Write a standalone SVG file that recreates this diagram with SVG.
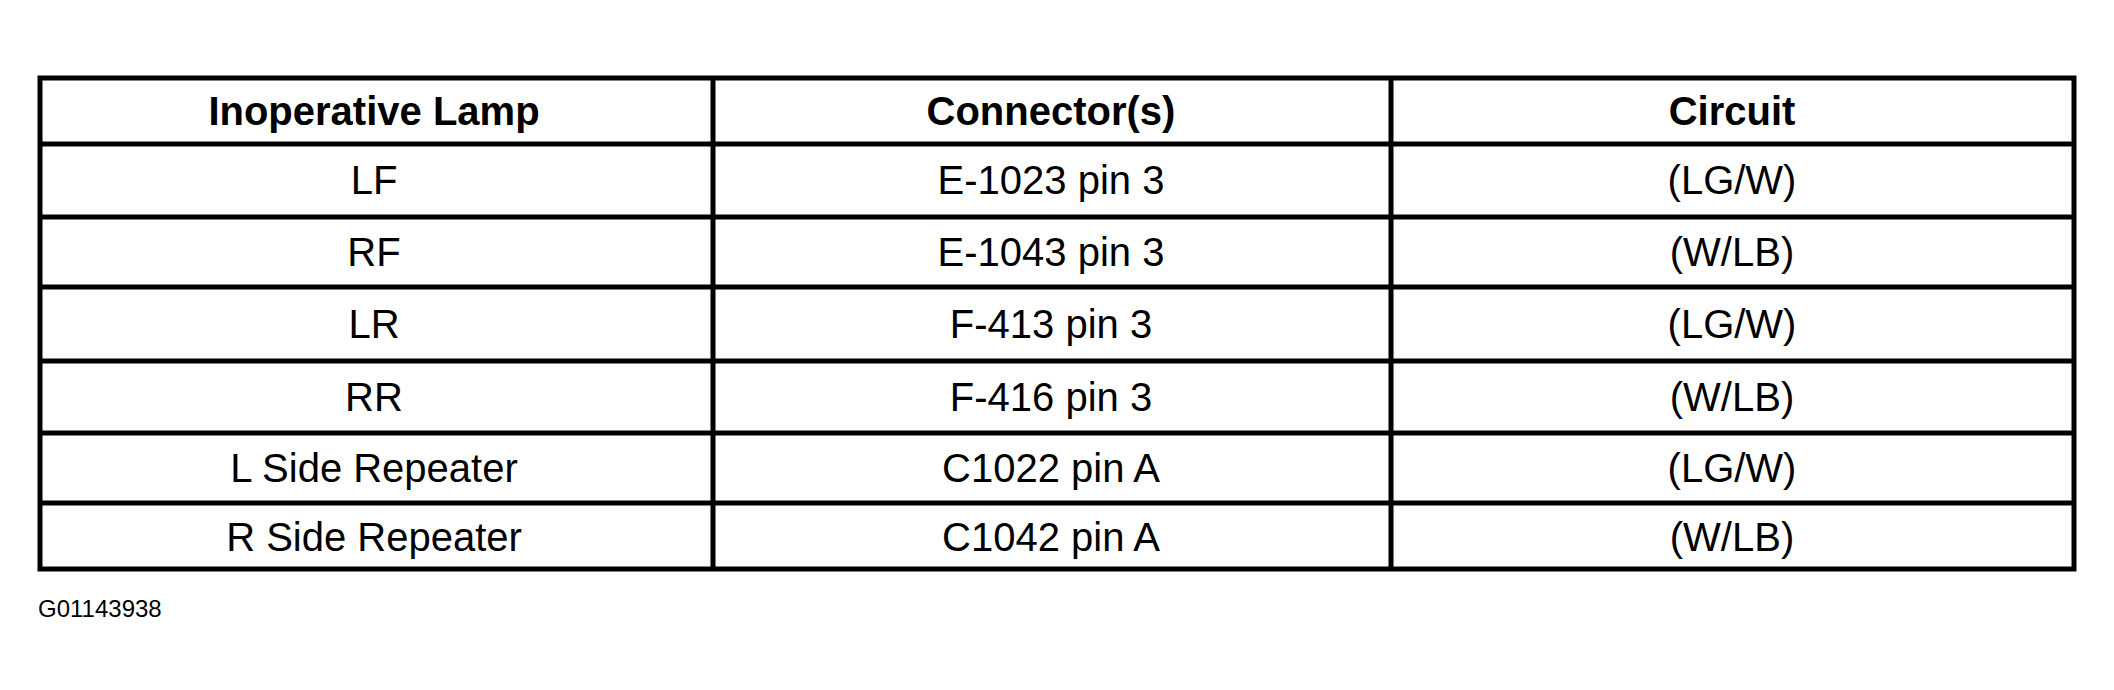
<svg xmlns="http://www.w3.org/2000/svg" width="2114" height="690" viewBox="0 0 2114 690">
<style>
.g{stroke:#000;stroke-width:5;fill:none}
.t{font-family:"Liberation Sans",Arial,sans-serif;font-size:40px;text-anchor:middle;fill:#000}
.h{font-weight:bold}
</style>
<rect width="2114" height="690" fill="#fff"/>
<g id="grid">
<rect class="g" x="40" y="78" width="2034" height="491"/>
<line class="g" x1="713" y1="78" x2="713" y2="569"/>
<line class="g" x1="1391" y1="78" x2="1391" y2="569"/>
<line class="g" x1="40" y1="144" x2="2074" y2="144"/>
<line class="g" x1="40" y1="217" x2="2074" y2="217"/>
<line class="g" x1="40" y1="287" x2="2074" y2="287"/>
<line class="g" x1="40" y1="361" x2="2074" y2="361"/>
<line class="g" x1="40" y1="433" x2="2074" y2="433"/>
<line class="g" x1="40" y1="503" x2="2074" y2="503"/>
</g>
<g id="header">
<text class="t h" x="374" y="125">Inoperative Lamp</text>
<text class="t h" x="1051" y="125">Connector(s)</text>
<text class="t h" x="1732" y="125">Circuit</text>
</g>
<g id="row1"><text class="t" x="374" y="194">LF</text><text class="t" x="1051" y="194">E-1023 pin 3</text><text class="t" x="1732" y="194">(LG/W)</text></g>
<g id="row2"><text class="t" x="374" y="266">RF</text><text class="t" x="1051" y="266">E-1043 pin 3</text><text class="t" x="1732" y="266">(W/LB)</text></g>
<g id="row3"><text class="t" x="374" y="338">LR</text><text class="t" x="1051" y="338">F-413 pin 3</text><text class="t" x="1732" y="338">(LG/W)</text></g>
<g id="row4"><text class="t" x="374" y="411">RR</text><text class="t" x="1051" y="411">F-416 pin 3</text><text class="t" x="1732" y="411">(W/LB)</text></g>
<g id="row5"><text class="t" x="374" y="482">L Side Repeater</text><text class="t" x="1051" y="482">C1022 pin A</text><text class="t" x="1732" y="482">(LG/W)</text></g>
<g id="row6"><text class="t" x="374" y="551">R Side Repeater</text><text class="t" x="1051" y="551">C1042 pin A</text><text class="t" x="1732" y="551">(W/LB)</text></g>
<text x="38" y="617" font-family="Liberation Sans,Arial,sans-serif" font-size="24" fill="#000">G01143938</text>
</svg>
